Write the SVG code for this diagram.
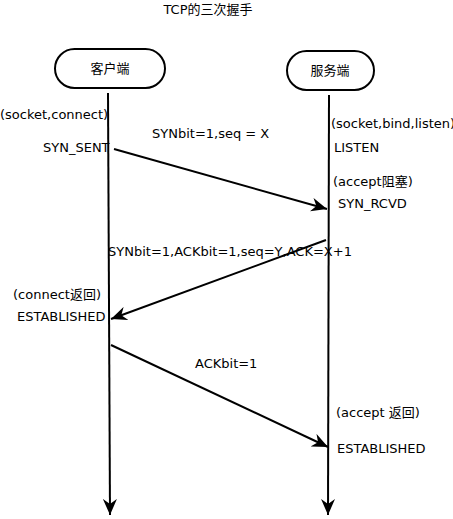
<svg xmlns="http://www.w3.org/2000/svg" width="453" height="519" viewBox="0 0 453 519">
<defs>
<style>
text{font-family:"DejaVu Sans","Noto Sans CJK SC",sans-serif;font-size:13px;fill:#000}
.node rect{fill:#fff;stroke:#000;stroke-width:2}
.c line{stroke:#000;stroke-width:2}
</style>
<marker id="ah2" viewBox="0 0 16 14" refX="16" refY="7" markerWidth="16" markerHeight="14" markerUnits="userSpaceOnUse" orient="auto">
<path d="M0,0 L16,7 L0,14 L5,7 Z" fill="#000"/>
</marker>
</defs>
<text x="208" y="14" text-anchor="middle">TCP的三次握手</text>
<g id="client" class="node">
<rect x="55" y="49" width="110" height="39" rx="19.5"/>
<text x="110" y="73" text-anchor="middle">客户端</text>
</g>
<g id="server" class="node">
<rect x="287" y="51" width="87" height="39" rx="19.5"/>
<text x="330" y="75" text-anchor="middle">服务端</text>
</g>
<g id="connectors" class="c">
<line x1="108" y1="93" x2="110" y2="515" marker-end="url(#ah2)"/>
<line x1="329" y1="95" x2="328" y2="515" marker-end="url(#ah2)"/>
<line x1="114" y1="149" x2="327" y2="209" marker-end="url(#ah2)"/>
<line x1="326" y1="240" x2="111" y2="319" marker-end="url(#ah2)"/>
<line x1="111" y1="345" x2="328" y2="447" marker-end="url(#ah2)"/>
</g>
<g id="labels">
<text x="0" y="119">(socket,connect)</text>
<text x="43" y="152">SYN_SENT</text>
<text x="152" y="138">SYNbit=1,seq = X</text>
<text x="331" y="128">(socket,bind,listen)</text>
<text x="334" y="152">LISTEN</text>
<text x="333" y="186">(accept阻塞)</text>
<text x="338" y="208">SYN_RCVD</text>
<text x="108" y="256">SYNbit=1,ACKbit=1,seq=Y,ACK=X+1</text>
<text x="13" y="299">(connect返回)</text>
<text x="17" y="321">ESTABLISHED</text>
<text x="195" y="368">ACKbit=1</text>
<text x="336" y="417">(accept 返回)</text>
<text x="337" y="453">ESTABLISHED</text>
</g>
</svg>
